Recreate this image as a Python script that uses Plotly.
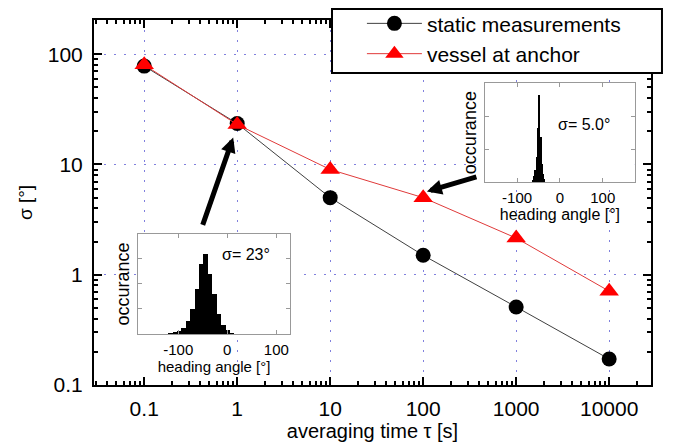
import math
import plotly.graph_objects as go

# ---------------- data ----------------
tau = [0.1, 1, 10, 100, 1000, 10000]
sigma_static = [78, 23.5, 5.0, 1.5, 0.51, 0.172]
sigma_vessel = [80, 23, 9.0, 5.0, 2.15, 0.71]

x_tick_vals = [0.1, 1, 10, 100, 1000, 10000]
x_tick_text = ["0.1", "1", "10", "100", "1000", "10000"]
y_tick_vals = [0.1, 1, 10, 100]
y_tick_text = ["0.1", "1", "10", "100"]

# inset 1 : vessel at anchor, 1 s averaging (sigma = 23 deg)
hist1_angle = [-116, -107, -98, -89, -80, -71, -62, -53, -44, -35, -26, -17, -8, 1, 10]
hist1_count = [0.01, 0.02, 0.03, 0.06, 0.13, 0.25, 0.45, 0.70, 0.80, 0.60, 0.40, 0.20, 0.09, 0.04, 0.015]
# inset 2 : vessel at anchor, 100 s averaging (sigma = 5.0 deg)
hist2_angle = [-63, -60, -57, -54, -51, -48, -45, -42, -39, -36]
hist2_count = [0.02, 0.06, 0.12, 0.25, 0.55, 0.88, 0.45, 0.18, 0.08, 0.03]

inset_tick_vals = [-100, 0, 100]
inset_tick_text = ["-100", "0", "100"]

FONT = "Liberation Sans, Arial, sans-serif"
GRID = "#8080dd"
X_RANGE = [-1.54, 4.45]   # log10 units
Y_RANGE = [-1.0, 2.31]    # log10 units

fig = go.Figure()

fig.add_trace(go.Scatter(
    x=tau, y=sigma_static, mode="lines+markers", name="static measurements",
    line=dict(color="#404040", width=1),
    marker=dict(symbol="circle", size=15, color="black"),
))
fig.add_trace(go.Scatter(
    x=tau, y=sigma_vessel, mode="lines+markers", name="vessel at anchor",
    line=dict(color="#e03a3a", width=1),
    marker=dict(symbol="triangle-up", size=17, color="#ff0000"),
))

fig.add_trace(go.Bar(x=hist1_angle, y=hist1_count, width=9, marker=dict(color="black", line=dict(width=0)),
                     xaxis="x2", yaxis="y2", showlegend=False))
fig.add_trace(go.Bar(x=hist2_angle, y=hist2_count, width=3, marker=dict(color="black", line=dict(width=0)),
                     xaxis="x3", yaxis="y3", showlegend=False))

inset_x = dict(
    tickmode="array", tickvals=inset_tick_vals, ticktext=inset_tick_text,
    ticks="inside", ticklen=4, tickcolor="#999", showline=True, linecolor="#999", linewidth=1,
    mirror="ticks", showgrid=False, zeroline=False, tickfont=dict(size=15, color="black"),
    ticklabelstandoff=2, automargin=False,
)
inset_y = dict(
    showticklabels=False, ticks="inside", ticklen=4, tickcolor="#999", showline=True,
    linecolor="#999", linewidth=1, mirror="ticks", showgrid=False, zeroline=False, automargin=False,
)

fig.update_layout(
    width=675, height=448,
    margin=dict(l=86, r=32, t=12, b=71, autoexpand=False),
    paper_bgcolor="white", plot_bgcolor="white",
    font=dict(family=FONT, color="black"),
    bargap=0,
    xaxis=dict(
        type="log", range=X_RANGE, automargin=False,
        tickmode="array", tickvals=x_tick_vals, ticktext=x_tick_text,
        ticks="inside", ticklen=8, tickwidth=1.5, tickcolor="black",
        minor=dict(dtick="D1", ticks="inside", ticklen=4, tickcolor="black", showgrid=False),
        showline=True, linecolor="black", linewidth=2, mirror="allticks",
        showgrid=True, gridcolor=GRID, griddash="2px,8px", gridwidth=1,
        zeroline=False, tickfont=dict(size=21), ticklabelstandoff=4,
        title=dict(text="averaging time τ [s]", font=dict(size=20), standoff=4),
    ),
    yaxis=dict(
        type="log", range=Y_RANGE, automargin=False,
        tickmode="array", tickvals=y_tick_vals, ticktext=y_tick_text,
        ticks="inside", ticklen=8, tickwidth=1.5, tickcolor="black",
        minor=dict(dtick="D1", ticks="inside", ticklen=4, tickcolor="black", showgrid=False),
        showline=True, linecolor="black", linewidth=2, mirror="allticks",
        showgrid=True, gridcolor=GRID, griddash="2px,8px", gridwidth=1,
        zeroline=False, tickfont=dict(size=21), ticklabelstandoff=5,
        title=dict(text="σ [°]", font=dict(size=19), standoff=10),
    ),
    xaxis2=dict(domain=[0.079, 0.352], anchor="y2", range=[-182, 128],
                title=dict(text="heading angle [°]", font=dict(size=15), standoff=0), **inset_x),
    yaxis2=dict(domain=[0.140, 0.414], anchor="x2", range=[0, 1], dtick=0.25,
                title=dict(text="occurance", font=dict(size=18), standoff=2), **inset_y),
    xaxis3=dict(domain=[0.702, 0.971], anchor="y3", range=[-175, 175],
                title=dict(text="heading angle [°]", font=dict(size=16), standoff=0), **inset_x),
    yaxis3=dict(domain=[0.556, 0.827], anchor="x3", range=[0, 1], dtick=0.33,
                title=dict(text="occurance", font=dict(size=18), standoff=2), **inset_y),
    legend=dict(x=0.481, y=1.046, xanchor="left", yanchor="top",
                bgcolor="rgba(0,0,0,0)", borderwidth=0, font=dict(size=21),
                itemwidth=55, tracegroupgap=0),
    showlegend=True,
)


def dom_x(f):
    return X_RANGE[0] + f * (X_RANGE[1] - X_RANGE[0])


def dom_y(f):
    return Y_RANGE[0] + f * (Y_RANGE[1] - Y_RANGE[0])


# white backgrounds around the insets (cover the main grid behind their labels)
fig.add_shape(type="rect", xref="x", yref="y", x0=dom_x(0.043), x1=dom_x(0.356),
              y0=dom_y(0.036), y1=dom_y(0.425),
              fillcolor="white", line=dict(width=0), layer="between")
fig.add_shape(type="rect", xref="x", yref="y", x0=dom_x(0.653), x1=dom_x(0.984),
              y0=dom_y(0.466), y1=dom_y(0.849),
              fillcolor="white", line=dict(width=0), layer="between")
# legend frame
fig.add_shape(type="rect", xref="paper", yref="paper", x0=0.4273, x1=1.0197, y0=0.855, y1=1.030,
              fillcolor="white", line=dict(color="black", width=2), layer="above")

# sigma labels inside insets
fig.add_annotation(text="σ= 23°", xref="x2 domain", yref="y2 domain", x=0.71, y=0.79,
                   xanchor="center", yanchor="middle", showarrow=False, font=dict(size=16))
fig.add_annotation(text="σ= 5.0°", xref="x3 domain", yref="y3 domain", x=0.66, y=0.58,
                   xanchor="center", yanchor="middle", showarrow=False, font=dict(size=16))

# arrows from insets to the data points (positions in log10 axis units)
fig.add_annotation(text="", xref="x", yref="y", x=math.log10(tau[1]) - 0.043, y=1.245, ax=-31, ay=89,
                   showarrow=True, arrowhead=2, arrowwidth=5, arrowsize=0.6,
                   arrowcolor="black", standoff=0)
fig.add_annotation(text="", xref="x", yref="y", x=math.log10(tau[3]) + 0.04, y=0.755, ax=51, ay=-15,
                   showarrow=True, arrowhead=2, arrowwidth=5, arrowsize=0.6,
                   arrowcolor="black", standoff=0)

fig.write_html("out.html")
